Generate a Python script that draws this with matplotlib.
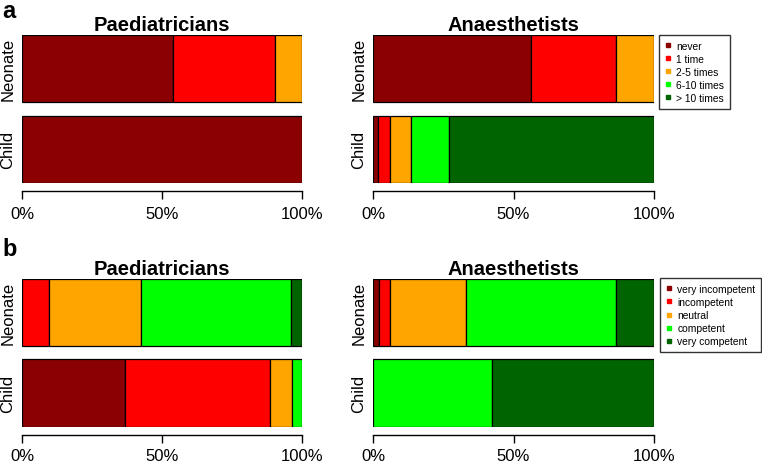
import numpy as np
import matplotlib
matplotlib.use("Agg")
import matplotlib.pyplot as plt
from matplotlib.lines import Line2D

plt.rcParams['font.family'] = ['Liberation Sans', 'DejaVu Sans']

groups = ['Child', 'Neonate']
colors = ['#8B0000', '#FF0000', '#FFA500', '#00FF00', '#006400']

# panel a: how often (share of respondents, per category)
freq_labels = ['never', '1 time', '2-5 times', '6-10 times', '> 10 times']
paed_freq = {'Neonate': [0.539, 0.365, 0.096, 0.0, 0.0],
             'Child':   [1.0, 0.0, 0.0, 0.0, 0.0]}
anae_freq = {'Neonate': [0.561, 0.306, 0.133, 0.0, 0.0],
             'Child':   [0.018, 0.043, 0.075, 0.133, 0.731]}

# panel b: self-rated competence
comp_labels = ['very incompetent', 'incompetent', 'neutral', 'competent', 'very competent']
paed_comp = {'Neonate': [0.0, 0.096, 0.327, 0.538, 0.039],
             'Child':   [0.367, 0.518, 0.077, 0.038, 0.0]}
anae_comp = {'Neonate': [0.021, 0.040, 0.269, 0.535, 0.135],
             'Child':   [0.0, 0.0, 0.0, 0.425, 0.575]}

W, H = 762, 464
fig = plt.figure(figsize=(W / 100, H / 100), dpi=100)


def panel(rect, data, title, xpad=4.5):
    ax = fig.add_axes(rect)
    ypos = np.array([0, 1.2])
    for yi, g in zip(ypos, groups):
        left = 0.0
        for v, c in zip(data[g], colors):
            if v > 0:
                ax.barh(yi, v, left=left, height=1.0, color=c,
                        edgecolor='black', linewidth=0.9)
            left += v
    ax.set_xlim(0, 1)
    ax.set_ylim(-0.5, 1.7)
    ax.set_yticks(ypos)
    ax.set_yticklabels(groups, rotation=90, va='center', fontsize=12)
    ax.tick_params(axis='y', length=0, pad=5)
    for s in ['top', 'right', 'left']:
        ax.spines[s].set_visible(False)
    ax.spines['bottom'].set_position(('outward', 6))
    ax.spines['bottom'].set_linewidth(1.0)
    ax.set_xticks([0, 0.5, 1])
    ax.set_xticklabels(['0%', '50%', '100%'], fontsize=12)
    ax.tick_params(axis='x', length=6, width=1.0, pad=xpad)
    ax.set_title(title, fontsize=14.5, fontweight='bold', pad=3.5)
    return ax


def legend(x, y, labels):
    handles = [Line2D([], [], marker='s', linestyle='none', markersize=3.5,
                      markerfacecolor=c, markeredgecolor=c) for c in colors]
    leg = fig.legend(handles, labels, loc='upper left',
                     bbox_to_anchor=(x / W, 1 - y / H), fontsize=7.4,
                     frameon=True, fancybox=False, handlelength=0.7,
                     handletextpad=0.45, labelspacing=0.3, borderpad=0.55,
                     borderaxespad=0)
    leg.get_frame().set_edgecolor('black')
    leg.get_frame().set_linewidth(1.0)


def rect(x0, x1, ytop, ybot):
    return [x0 / W, 1 - ybot / H, (x1 - x0) / W, (ybot - ytop) / H]


panel(rect(22.3, 302.3, 36, 184), paed_freq, 'Paediatricians')
panel(rect(373.3, 653.7, 36, 184), anae_freq, 'Anaesthetists')
panel(rect(22.3, 302.3, 279.7, 427.7), paed_comp, 'Paediatricians', xpad=3)
panel(rect(373.3, 653.7, 279.7, 427.7), anae_comp, 'Anaesthetists', xpad=3)

legend(659, 36, freq_labels)
legend(660, 279.3, comp_labels)

fig.text(2 / W, 1 - 0.5 / H, 'a', fontsize=17, fontweight='bold', va='top')
fig.text(2 / W, 1 - 256.5 / H, 'b', fontsize=17, fontweight='bold', va='baseline')

fig.savefig('out.png', dpi=100)
